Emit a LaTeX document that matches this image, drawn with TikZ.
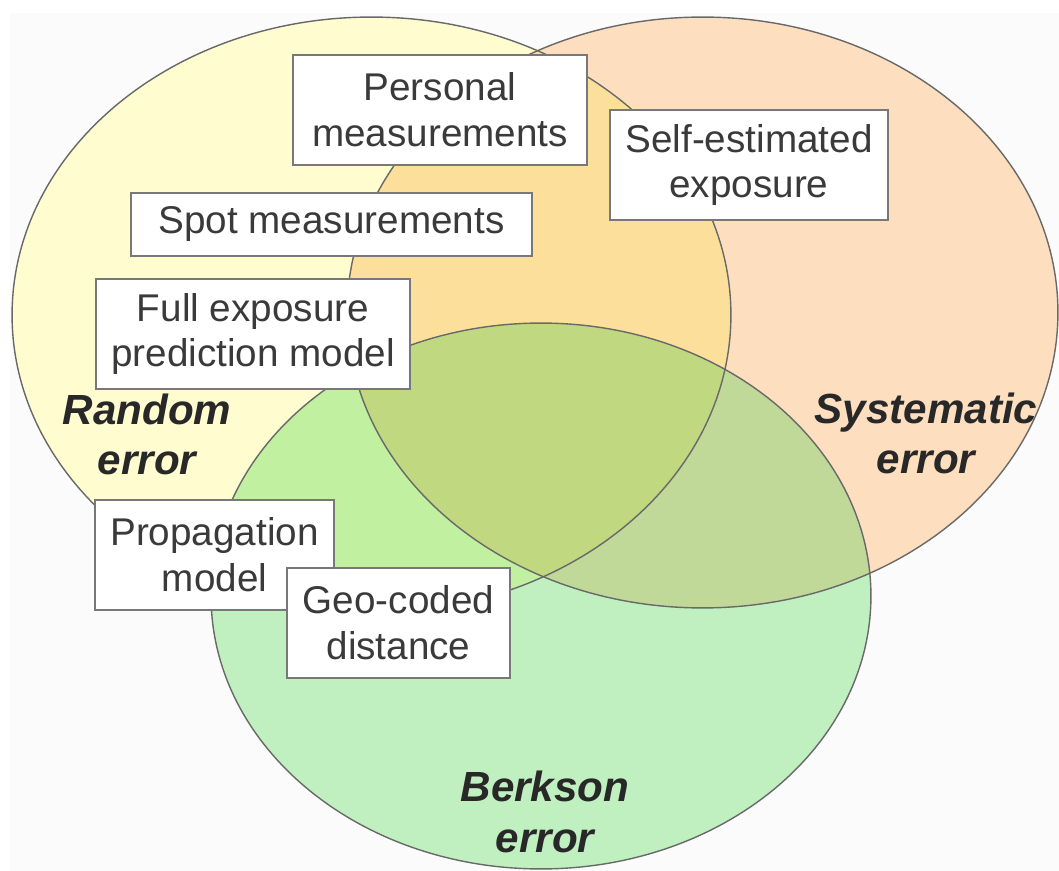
\documentclass[tikz,border=0pt]{standalone}
\usepackage{fontspec}
\setmainfont{Liberation Sans}
\definecolor{yonly}{RGB}{255,252,208}
\definecolor{oonly}{RGB}{253,223,192}
\definecolor{gonly}{RGB}{192,240,192}
\definecolor{yo}{RGB}{253,223,156}
\definecolor{yg}{RGB}{192,240,160}
\definecolor{og}{RGB}{192,216,152}
\definecolor{yog}{RGB}{192,216,128}
\definecolor{edge}{RGB}{105,105,105}
\definecolor{boxedge}{RGB}{120,120,120}
\definecolor{txt}{RGB}{58,58,58}
\definecolor{lbl}{RGB}{40,40,40}
\definecolor{bg}{RGB}{251,251,251}
\begin{document}
\begin{tikzpicture}[x=0.02cm,y=-0.02cm,
  infobox/.style={draw=boxedge,line width=1pt,fill=white,text=txt,align=center,inner sep=0pt,font=\fontsize{22}{26}\selectfont},
  errlabel/.style={text=lbl,align=center,inner sep=0pt,font=\bfseries\itshape\fontsize{24}{29}\selectfont},
  ring/.style={draw=edge,line width=0.8pt},
  yell/.style={insert path={(371.5,315) ellipse [x radius=7.19cm, y radius=5.96cm]}},
  oell/.style={insert path={(702.5,312.5) ellipse [x radius=7.11cm, y radius=5.91cm]}},
  gell/.style={insert path={(541,596) ellipse [x radius=6.6cm, y radius=5.46cm]}}]
\useasboundingbox (0,0) rectangle (1059,871);
\fill[white] (0,0) rectangle (1059,871);
\fill[bg] (10,13) rectangle (1059,871);
% regions
\fill[yonly,yell];
\fill[oonly,oell];
\begin{scope}
  \clip[yell];
  \fill[yo,oell];
\end{scope}
\fill[gonly,gell];
\begin{scope}
  \clip[gell];
  \fill[yg,yell];
  \fill[og,oell];
  \clip[yell];
  \fill[yog,oell];
\end{scope}
% outlines
\draw[ring,yell];
\draw[ring,oell];
\draw[ring,gell];
% labels (anchor = baseline of the last line)
\node[errlabel,anchor=base] (rnd) at (147,475) {Random\\error};
\node[errlabel,anchor=base] (sys) at (926,474) {Systematic\\error};
\node[errlabel,anchor=base] (brk) at (545,852) {Berkson\\error};
% boxes
\node[infobox,minimum width=5.88cm,minimum height=2.2cm] (pm) at (440,110) {Personal\\measurements};
\node[infobox,minimum width=5.56cm,minimum height=2.2cm] (se) at (749,165) {Self-estimated\\exposure};
\node[infobox,minimum width=8.02cm,minimum height=1.26cm] (sm) at (331.5,224.5) {Spot measurements};
\node[infobox,minimum width=6.28cm,minimum height=2.2cm] (fe) at (253,334) {Full exposure\\prediction model};
\node[infobox,minimum width=4.78cm,minimum height=2.2cm] (pr) at (214.5,555) {Propagation\\model};
\node[infobox,minimum width=4.46cm,minimum height=2.2cm] (gc) at (398.5,623) {Geo-coded\\distance};
\end{tikzpicture}
\end{document}
